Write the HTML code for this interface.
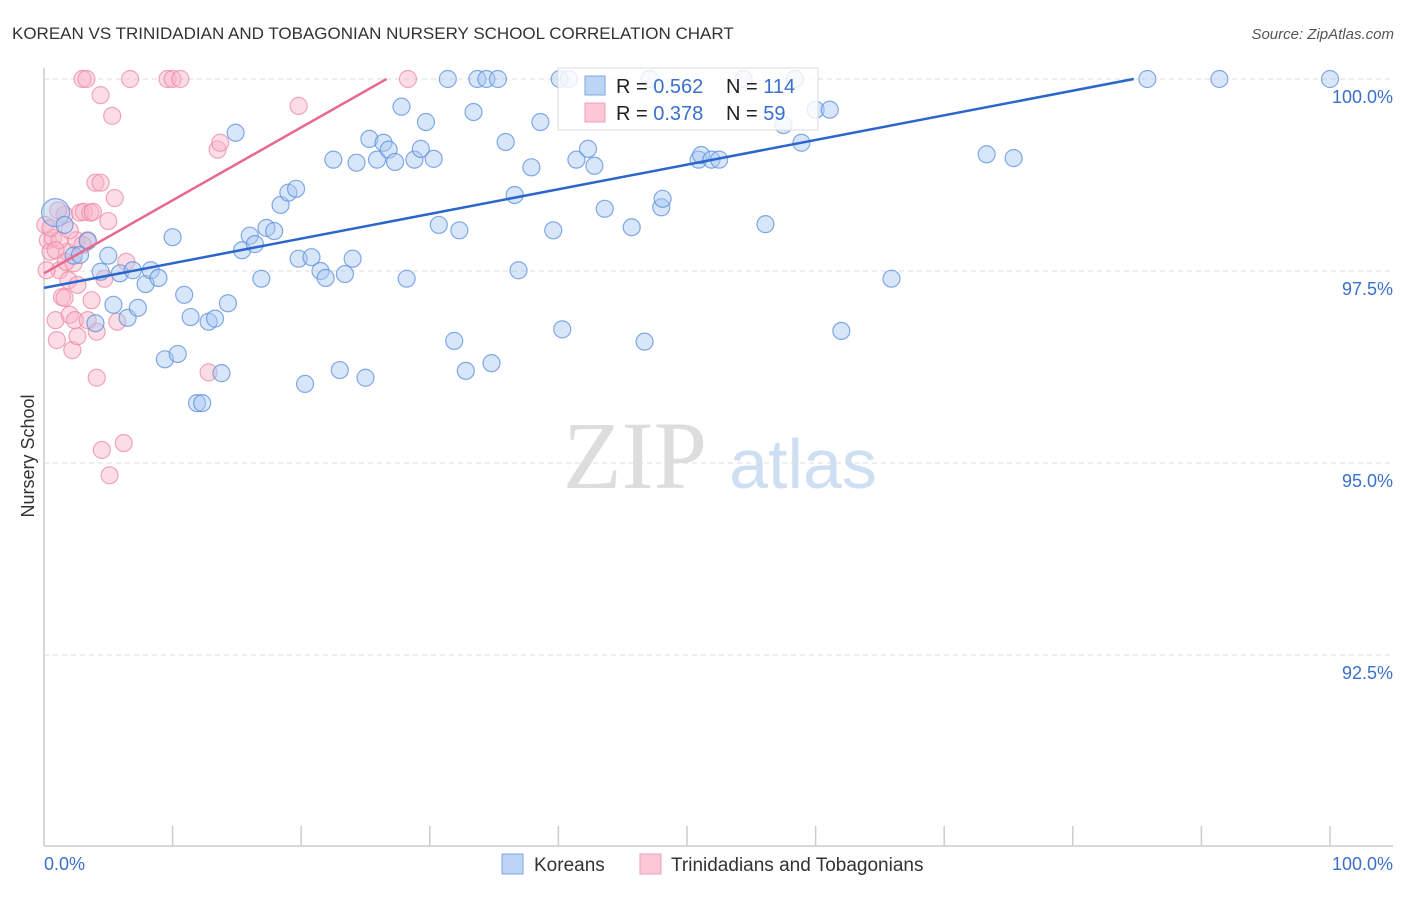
<!DOCTYPE html>
<html><head><meta charset="utf-8">
<style>
body{margin:0;background:#fff;font-family:"Liberation Sans",sans-serif;}
svg text{font-family:"Liberation Sans",sans-serif;}
</style></head>
<body>
<svg id="chart" width="1406" height="892" xmlns="http://www.w3.org/2000/svg">
<text x="12" y="39" font-size="17" fill="#333">KOREAN VS TRINIDADIAN AND TOBAGONIAN NURSERY SCHOOL CORRELATION CHART</text>
<text x="1394" y="39" font-size="15" fill="#555" font-style="italic" text-anchor="end">Source: ZipAtlas.com</text>
<text x="34" y="456" font-size="18" fill="#333" text-anchor="middle" transform="rotate(-90 34 456)">Nursery School</text>
<g>
<text x="635" y="488" font-size="96" fill="#ddd" font-family="Liberation Serif" text-anchor="middle" style="font-family:'Liberation Serif',serif">ZIP</text>
<text x="803" y="488" font-size="70" fill="#cfdff3" text-anchor="middle">atlas</text>
</g>
<g id="grid"></g>
<g id="axes"></g>
<g id="lines"></g>
<g id="pts"></g>
<g>
<rect x="558" y="68" width="260" height="62" fill="#fff" fill-opacity="0.8" stroke="#ddd"/>
<rect x="585" y="76" width="20" height="19" fill="#bcd4f6" stroke="#7fa6e0"/>
<rect x="585" y="103" width="20" height="19" fill="#fcc8d6" stroke="#eea0b5"/>
<text x="616" y="93" font-size="20" fill="#222">R = <tspan fill="#3a70cc">0.562</tspan></text>
<text x="726" y="93" font-size="20" fill="#222">N = <tspan fill="#3a70cc">114</tspan></text>
<text x="616" y="120" font-size="20" fill="#222">R = <tspan fill="#3a70cc">0.378</tspan></text>
<text x="726" y="120" font-size="20" fill="#222">N = <tspan fill="#3a70cc"> 59</tspan></text>
</g>
<g>
<rect x="502" y="854" width="21" height="20" fill="#bcd4f6" stroke="#7fa6e0"/>
<text x="534" y="871" font-size="19" fill="#333">Koreans</text>
<rect x="640" y="854" width="21" height="20" fill="#fcc8d6" stroke="#eea0b5"/>
<text x="671" y="871" font-size="19" fill="#333">Trinidadians and Tobagonians</text>
</g>
</svg>
<script>
const blueX=[0.9,1.6,2.3,2.8,3.4,4.0,4.4,5.0,5.4,5.9,6.5,6.9,7.3,7.9,8.3,8.9,9.4,10.0,10.4,10.9,11.4,11.9,12.3,12.8,13.3,13.8,14.3,14.9,15.4,16.0,16.4,16.9,17.3,17.9,18.4,19.0,19.6,19.8,20.3,20.8,21.5,21.9,22.5,23.0,23.4,24.0,24.3,25.0,25.3,25.9,26.4,26.8,27.3,27.8,28.2,28.8,29.3,29.7,30.3,30.7,31.4,31.9,32.3,32.8,33.4,33.7,34.4,34.8,35.3,35.9,36.6,36.9,37.9,38.6,39.6,40.1,40.3,40.8,41.4,42.3,42.8,43.6,45.7,46.7,47.1,48.0,48.1,50.9,51.1,51.9,52.5,54.4,56.1,57.5,58.4,58.9,60.0,61.1,62.0,65.9,73.3,75.4,85.8,91.4,100];
const blueY=[98.26,98.10,97.70,97.71,97.89,96.82,97.49,97.70,97.06,97.47,96.89,97.51,97.02,97.33,97.51,97.41,96.35,97.94,96.42,97.19,96.90,95.78,95.78,96.84,96.88,96.17,97.08,99.30,97.77,97.96,97.85,97.40,98.06,98.02,98.36,98.52,98.57,97.66,96.03,97.68,97.50,97.41,98.95,96.21,97.46,97.66,98.91,96.11,99.22,98.95,99.17,99.08,98.92,99.64,97.40,98.95,99.09,99.44,98.96,98.10,100,96.59,98.03,96.20,99.57,100,100,96.30,100,99.18,98.49,97.51,98.85,99.44,98.03,100,96.74,100,98.95,99.09,98.87,98.31,98.07,96.58,100,98.33,98.44,98.95,99.01,98.95,98.95,100,98.11,99.40,100,99.17,99.60,99.60,96.72,97.40,99.02,98.97,100,100,100];
const pinkX=[0.3,0.5,0.7,0.9,1.0,1.2,1.4,1.6,1.8,1.9,2.0,2.2,2.3,2.5,2.6,2.8,3.1,3.4,3.6,3.8,4.0,4.1,4.1,4.4,4.4,4.5,4.7,5.0,5.1,5.3,5.5,5.7,6.2,6.4,6.7,9.6,10.0,10.6,12.8,13.5,13.7,19.8,28.3,3.0,3.3,0.1,1.2,1.6,2.4,3.4,3.7,0.9,2.0,3.0,0.5,1.7,2.6,0.2,1.1];
const pinkY=[97.90,97.75,97.93,96.86,96.60,97.51,97.16,98.23,97.75,97.38,96.93,96.47,97.60,97.90,96.65,98.26,98.27,97.90,98.26,98.27,98.65,96.71,96.11,99.79,98.65,95.17,97.40,98.15,94.84,99.52,98.45,96.84,95.26,97.62,100,100,100,100,96.18,99.08,99.17,99.65,100,100,100,98.10,97.90,97.15,96.86,96.86,97.12,97.77,98.03,97.84,98.06,97.62,97.32,97.51,98.29];
const trendIntercept=[97.28,97.47];
const trendSlope=[0.0321,0.095];
const yTicks=[100,97.5,95,92.5];
const yTickLabels=["100.0%","97.5%","95.0%","92.5%"];
const NS="http://www.w3.org/2000/svg";
const X=v=>44+v*12.86, Y=v=>79+(100-v)*76.8;
function mk(t,a,p){const e=document.createElementNS(NS,t);for(const k in a)e.setAttribute(k,a[k]);p.appendChild(e);return e;}
const grid=document.getElementById('grid'),axes=document.getElementById('axes');
yTicks.forEach((t,i)=>{
 const l=mk('line',{x1:44,x2:1393,y1:Y(t),y2:Y(t),stroke:'#ddd','stroke-dasharray':'5,4'},grid);
 
 
 const tx=mk('text',{x:1393,y:Y(t)+24,'font-size':18,fill:'#3a70cc','text-anchor':'end'},axes);
 tx.textContent=yTickLabels[i];
 
 
});
let a=mk('line',{x1:44,x2:44,y1:68,y2:846,stroke:'#ccc','stroke-width':1.5},axes);


a=mk('line',{x1:44,x2:1393,y1:846,y2:846,stroke:'#ccc','stroke-width':1.5},axes);


for(let i=1;i<=10;i++){const t=mk('line',{x1:X(i*10),x2:X(i*10),y1:826,y2:846,stroke:'#ccc','stroke-width':1.5},axes);
 
 }
let t0=mk('text',{x:44,y:870,'font-size':18,fill:'#3a70cc'},axes);t0.textContent='0.0%';


t0=mk('text',{x:1393,y:870,'font-size':18,fill:'#3a70cc','text-anchor':'end'},axes);t0.textContent='100.0%';


const pts=document.getElementById('pts');
function dots(xs,ys,fill,stroke,name){xs.forEach((x,i)=>{
 const c=mk('circle',{cx:X(x),cy:Y(ys[i]),r:(name=='korean-point'&&i==0)?14:8.5,fill:fill,'fill-opacity':0.45,stroke:stroke,'stroke-opacity':0.75,'stroke-width':1.2},pts);
 
 
});}
dots(pinkX,pinkY,'#f9b3c7','#ec8aa6','trinidadian-point');
dots(blueX,blueY,'#a9c8f2','#5b8fdb','korean-point');
const lines=document.getElementById('lines');
['#2a66cc','#e86890'].forEach((col,i)=>{
 let xe=Math.min(100,(100-trendIntercept[i])/trendSlope[i]);
 const l=mk('line',{x1:X(0),y1:Y(trendIntercept[i]),x2:X(xe),y2:Y(trendIntercept[i]+trendSlope[i]*xe),stroke:col,'stroke-width':2.5},lines);
 
 
});
document.getElementById('chart').appendChild(lines);
</script>
</body></html>
